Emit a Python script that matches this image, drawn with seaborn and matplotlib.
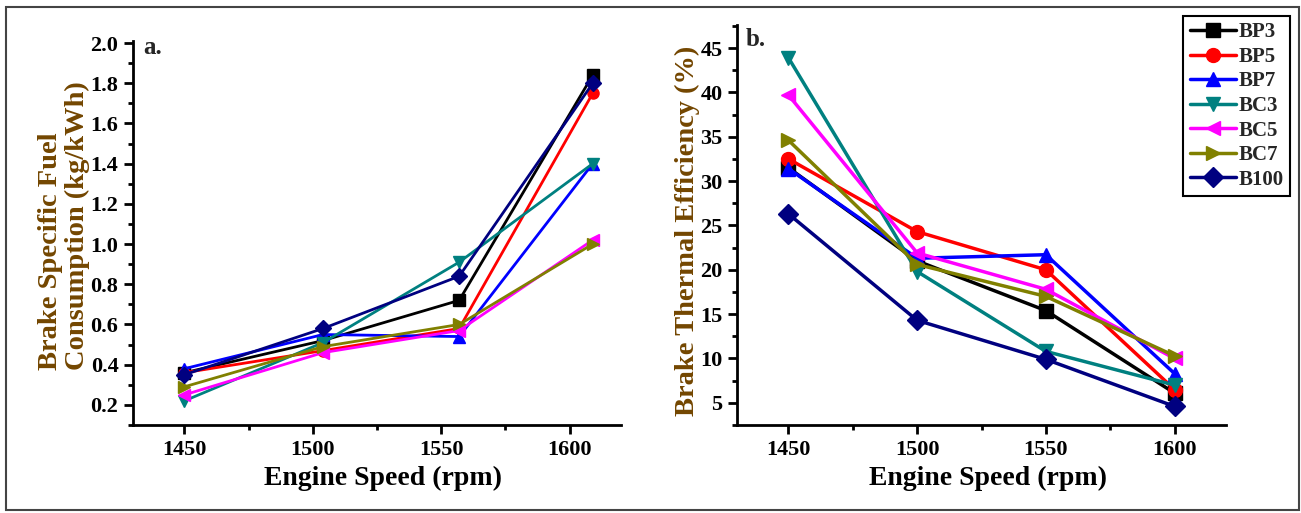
import matplotlib
matplotlib.use("Agg")
import matplotlib.pyplot as plt
from matplotlib.patches import Rectangle
from matplotlib.ticker import MultipleLocator
import seaborn as sns
import numpy as np

# ---- data ----
series = ["BP3", "BP5", "BP7", "BC3", "BC5", "BC7", "B100"]
colors = ["#000000", "#ff0000", "#0000ff", "#008080", "#ff00ff", "#808000", "#000080"]
markers = ["s", "o", "^", "v", "<", ">", "D"]

speed_a = [1450, 1504, 1557, 1609]
speed_b = [1450, 1500, 1550, 1600]
x_ticks = [1450, 1500, 1550, 1600]

bsfc_BP3 = [0.36, 0.52, 0.72, 1.84]
bsfc_BP5 = [0.36, 0.47, 0.58, 1.75]
bsfc_BP7 = [0.38, 0.55, 0.54, 1.40]
bsfc_BC3 = [0.22, 0.51, 0.91, 1.40]
bsfc_BC5 = [0.25, 0.46, 0.57, 1.02]
bsfc_BC7 = [0.29, 0.49, 0.60, 1.00]
bsfc_B100 = [0.35, 0.58, 0.84, 1.80]

bte_BP3 = [31.5, 21.0, 15.4, 6.1]
bte_BP5 = [32.5, 24.3, 20.0, 6.5]
bte_BP7 = [31.4, 21.3, 21.7, 8.3]
bte_BC3 = [43.9, 19.8, 10.8, 7.0]
bte_BC5 = [39.7, 21.9, 17.8, 10.0]
bte_BC7 = [34.6, 20.6, 17.0, 10.3]
bte_B100 = [26.3, 14.3, 9.9, 4.6]

bsfc = [bsfc_BP3, bsfc_BP5, bsfc_BP7, bsfc_BC3, bsfc_BC5, bsfc_BC7, bsfc_B100]
bte = [bte_BP3, bte_BP5, bte_BP7, bte_BC3, bte_BC5, bte_BC7, bte_B100]

# ---- style ----
sns.set_style("ticks")
plt.rcParams["font.family"] = ["Liberation Serif", "DejaVu Serif"]
plt.rcParams["font.weight"] = "bold"
plt.rcParams["axes.labelweight"] = "bold"

label_color = "#734600"

fig = plt.figure(figsize=(13.01, 5.13), dpi=100)
ax1 = fig.add_axes([133/1301, 1-425/513, 488/1301, (425-41)/513])
ax2 = fig.add_axes([737/1301, 1-425/513, 489/1301, (425-25)/513])

for name, c, m, ya, yb in zip(series, colors, markers, bsfc, bte):
    sns.lineplot(x=speed_a, y=ya, ax=ax1, color=c, marker=m, markersize=8,
                 markeredgecolor=c, markeredgewidth=1, linewidth=2.0, sort=False,
                 legend=False)
    sns.lineplot(x=speed_b, y=yb, ax=ax2, color=c, marker=m, markersize=10,
                 markeredgecolor=c, markeredgewidth=1, linewidth=2.5, sort=False,
                 label=name, legend=False)

for ax in (ax1, ax2):
    sns.despine(ax=ax)
    ax.set_xlim(1430, 1620)
    ax.set_xticks(x_ticks)
    ax.xaxis.set_minor_locator(MultipleLocator(25))
    for s in ("left", "bottom"):
        ax.spines[s].set_linewidth(2.0)
        ax.spines[s].set_color("black")
    ax.tick_params(axis="both", which="major", direction="out", length=6.5, width=2.0,
                   colors="black", labelsize=16, pad=4)
    ax.tick_params(axis="both", which="minor", direction="out", length=3.5, width=2.0,
                   colors="black")
    for lab in ax.get_xticklabels() + ax.get_yticklabels():
        lab.set_fontweight("bold")
    ax.set_xlabel("Engine Speed (rpm)", fontsize=20, fontweight="bold", color="black")
    ax.grid(False)

ax1.xaxis.set_label_coords(0.512, -0.107)
ax2.xaxis.set_label_coords(0.514, -0.1025)

ax1.set_ylim(0.1, 2.01)
ax1.set_yticks(np.arange(0.2, 2.01, 0.2))
ax1.yaxis.set_minor_locator(MultipleLocator(0.1))
ax1.set_yticklabels([f"{v:.1f}" for v in np.arange(0.2, 2.01, 0.2)], fontweight="bold")
ax1.set_ylabel("Brake Specific Fuel\nConsumption (kg/kWh)", fontsize=20.5,
               fontweight="bold", color=label_color, linespacing=1.12,
               multialignment="left")
ax1.yaxis.set_label_coords(-0.088, 0.52)

ax2.set_ylim(2.5, 47.6)
ax2.set_yticks([5, 10, 15, 20, 25, 30, 35, 40, 45])
ax2.yaxis.set_minor_locator(MultipleLocator(2.5))
ax2.set_ylabel("Brake Thermal Efficiency (%)", fontsize=20.5, fontweight="bold",
               color=label_color)
ax2.yaxis.set_label_coords(-0.075, 0.485)

ax1.text(0.02, 0.984, "a.", transform=ax1.transAxes, fontsize=18, fontweight="bold",
         va="center", ha="left")
ax2.text(0.018, 0.9625, "b.", transform=ax2.transAxes, fontsize=18, fontweight="bold",
         va="center", ha="left")

handles, labels = ax2.get_legend_handles_labels()
leg = ax2.legend(handles, labels, loc="upper right",
                 bbox_to_anchor=(1290/1301, 1-16/513), bbox_transform=fig.transFigure,
                 frameon=True, fancybox=False, edgecolor="black", framealpha=1,
                 handlelength=2.2, handletextpad=0.15, labelspacing=0.22,
                 borderpad=0.3, borderaxespad=0,
                 prop={"family": "Liberation Serif", "weight": "bold", "size": 15})
leg.get_frame().set_linewidth(1.5)

fig.patches.append(Rectangle((6/1301, 1-510/513), 1293/1301, 503/513,
                             transform=fig.transFigure, fill=False,
                             edgecolor="#444444", linewidth=1.5))

fig.savefig("out.png", dpi=100, facecolor="white")
